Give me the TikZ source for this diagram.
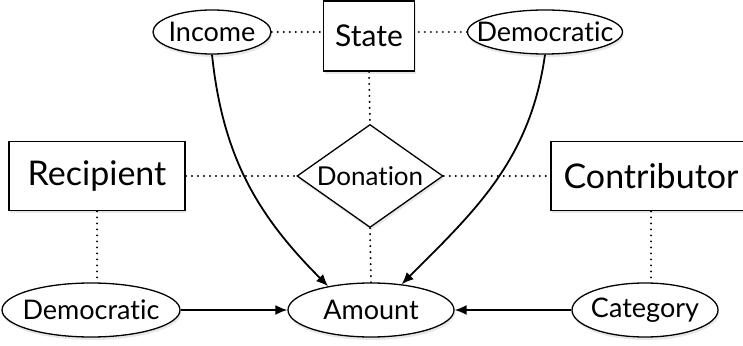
\documentclass[tikz,border=0pt]{standalone}
\usepackage{fontspec}
\setmainfont{Lato}[Ligatures={NoCommon}]
\usetikzlibrary{shapes.geometric,arrows.meta,shadows}
\newcommand\ctrtext[1]{\makebox[0pt]{#1}}
\begin{document}
\begin{tikzpicture}[x=1pt,y=1pt,
  shad/.style={drop shadow={shadow xshift=1pt,shadow yshift=-3pt,opacity=0.18}},
  ent/.style={draw,line width=1.8pt,fill=white,inner sep=0pt,shad,
    font=\fontsize{34}{38}\selectfont},
  att/.style={draw,ellipse,line width=1.3pt,fill=white,inner sep=0pt,shad,
    font=\fontsize{27}{30}\selectfont},
  rel/.style={draw,diamond,aspect=1.42,line width=1.3pt,fill=white,inner sep=0pt,shad,
    minimum width=146pt,minimum height=103pt,
    font=\fontsize{26}{30}\selectfont},
  link/.style={line width=2.2pt,dash pattern=on 0pt off 6pt,line cap=round},
  arr/.style={line width=1.8pt,-{Latex[length=12pt,width=10pt]}}
]
\useasboundingbox (0,0) rectangle (743,345);
% top row
\node[att,minimum width=118pt,minimum height=44pt] (inc) at (212,313) {\ctrtext{Income}};
\node[ent,minimum width=91pt,minimum height=70pt,font=\fontsize{30}{34}\selectfont] (state) at (369,309) {State};
\node[att,minimum width=155pt,minimum height=44pt] (demT) at (545,313) {\ctrtext{Democratic}};
% middle row
\node[rel] (don) at (370,169) {\ctrtext{Donation}};
\node[ent,minimum width=176pt,minimum height=69pt] (rec) at (97,169) {Recipient};
\node[ent,minimum width=200pt,minimum height=69pt] (con) at (651,169) {Contributor};
% bottom row
\node[att,minimum width=178pt,minimum height=54pt] (demB) at (91,35) {\ctrtext{Democratic}};
\node[att,minimum width=166pt,minimum height=54pt] (amt) at (371,35) {\ctrtext{Amount}};
\node[att,minimum width=146pt,minimum height=54pt] (cat) at (645,35) {\ctrtext{Category}};
% dotted links
\draw[link] (inc.east) -- (inc.east -| state.west);
\draw[link] (demT.west) -- (demT.west -| state.east);
\draw[link] (state.south) -- (don.north);
\draw[link] (rec.east) -- (don.west);
\draw[link] (don.east) -- (con.west);
\draw[link] (rec.south) -- (rec.south |- demB.north);
\draw[link] (con.south) -- (con.south |- cat.north);
\draw[link] (don.south) -- (amt.north);
% arrows
\draw[arr] (inc.south) to[out=-84,in=135] (amt.151);
\draw[arr] (demT.south) to[out=-98,in=45] (amt.40);
\draw[arr] (demB.east) -- (amt.west);
\draw[arr] (cat.west) -- (amt.east);
\end{tikzpicture}
\end{document}
